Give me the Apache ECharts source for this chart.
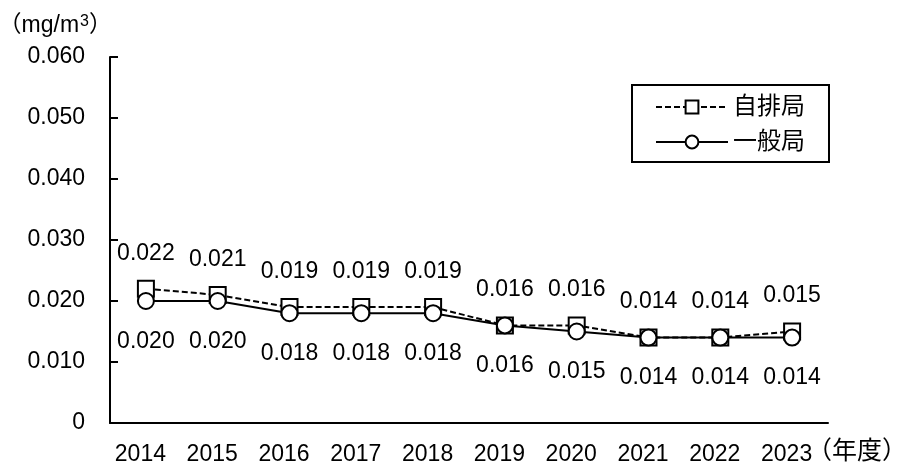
<!DOCTYPE html>
<html>
<head>
<meta charset="utf-8">
<script src="https://cdn.jsdelivr.net/npm/echarts@6/dist/echarts.min.js"></script>
<style>html,body{margin:0;padding:0;background:#fff;}#c{width:904px;height:464px;}</style>
</head>
<body>
<div id="c"></div>
<script>
const years = ['2014','2015','2016','2017','2018','2019','2020','2021','2022','2023'];
const jihaikyoku = [0.022,0.021,0.019,0.019,0.019,0.016,0.016,0.014,0.014,0.015];
const ippankyoku = [0.020,0.020,0.018,0.018,0.018,0.016,0.015,0.014,0.014,0.014];
const yTicks = [0,0.01,0.02,0.03,0.04,0.05,0.06];
const seriesNames = ['自排局','一般局'];
const yUnit = '（mg/m{sup|3}）';
const xUnit = '（年度）';

const FONT = "'Liberation Sans', 'Noto Sans CJK JP', sans-serif";
const chart = echarts.init(document.getElementById('c'), null, {renderer:'canvas'});
const fmt = v => v === 0 ? '0' : v.toFixed(3);
chart.setOption({
  animation: false,
  backgroundColor: '#fff',
  textStyle: {fontFamily: FONT, color: '#000'},
  grid: {left: 110, right: 76, top: 57, bottom: 41, containLabel: false, outerBoundsMode: 'none'},
  legend: {
    orient: 'vertical',
    left: 632, top: 85,
    padding: [10, 24, 8, 23],
    itemGap: 11,
    itemWidth: 72, itemHeight: 16,
    borderColor: '#000', borderWidth: 2,
    textStyle: {fontSize: 24, color: '#000', fontFamily: FONT},
    data: seriesNames
  },
  xAxis: {
    type: 'category',
    data: years,
    boundaryGap: true,
    name: xUnit,
    nameLocation: 'end',
    nameGap: -21,
    nameMoveOverlap: false,
    nameTextStyle: {fontSize: 25, color: '#000', align: 'left', verticalAlign: 'top', padding: [17,0,0,0]},
    axisLine: {lineStyle: {color: '#000', width: 2}},
    axisTick: {inside: true, length: 7, lineStyle: {color: '#000', width: 2}},
    axisLabel: {fontSize: 23, color: '#000', margin: 20, interval: 0, padding: [0, 11, 0, 0]},
    splitLine: {show: false}
  },
  yAxis: {
    type: 'value',
    min: yTicks[0], max: yTicks[yTicks.length-1], interval: yTicks[1]-yTicks[0],
    name: yUnit,
    nameLocation: 'end',
    nameGap: 19,
    nameMoveOverlap: false,
    nameTextStyle: {fontSize: 23, color: '#000', align: 'right', verticalAlign: 'bottom', padding: [0, -2, 0, 0],
      rich: {sup: {fontSize: 16, verticalAlign: 'top', padding: [0, 0, 8, 1], fontFamily: FONT}}},
    axisLine: {show: true, lineStyle: {color: '#000', width: 2}},
    axisTick: {show: true, inside: true, length: 8, lineStyle: {color: '#000', width: 2}},
    axisLabel: {fontSize: 23, color: '#000', margin: 25, formatter: fmt},
    splitLine: {show: false}
  },
  series: [
    {
      name: seriesNames[0], type: 'line', data: jihaikyoku,
      symbol: 'rect', symbolSize: 16,
      lineStyle: {color: '#000', width: 2, type: [6,3]},
      itemStyle: {color: '#fff', borderColor: '#000', borderWidth: 2},
      label: {show: true, position: 'top', distance: 15, fontSize: 23, color: '#000', formatter: p => p.value.toFixed(3)},
      z: 2
    },
    {
      name: seriesNames[1], type: 'line', data: ippankyoku,
      symbol: 'circle', symbolSize: 16,
      lineStyle: {color: '#000', width: 2, type: 'solid'},
      itemStyle: {color: '#fff', borderColor: '#000', borderWidth: 2},
      label: {show: true, position: 'bottom', distance: 20, fontSize: 23, color: '#000', formatter: p => p.value.toFixed(3)},
      z: 3
    }
  ]
});
</script>
</body>
</html>
